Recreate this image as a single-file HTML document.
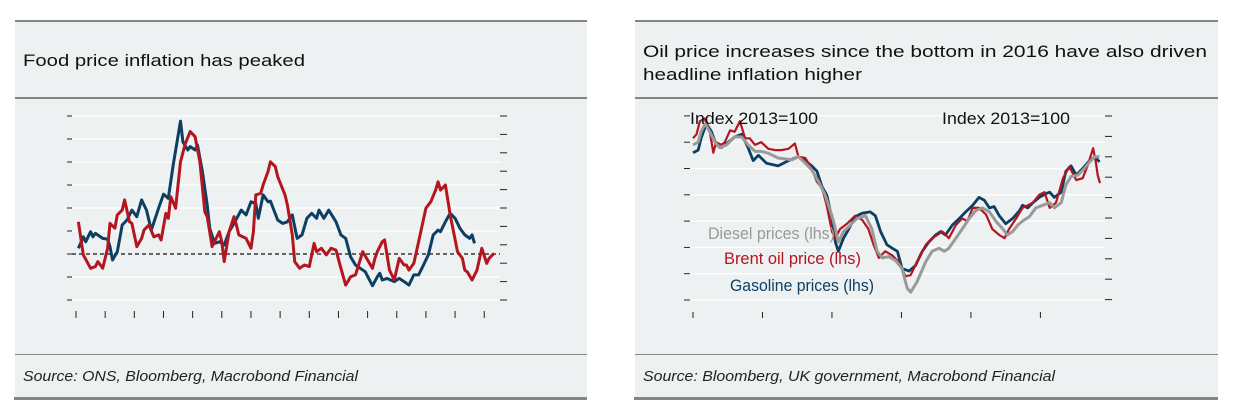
<!DOCTYPE html>
<html><head><meta charset="utf-8"><style>
html,body{margin:0;padding:0;background:#fff;}
svg{display:block;font-family:"Liberation Sans",sans-serif;}
</style></head><body>
<svg id="s" width="1233" height="418" viewBox="0 0 1233 418">
<g id="panels"></g>
<g id="left-chart"></g>
<g id="right-chart"></g>
</svg>
<script>
// ---- Left chart data (months since Jan 2004, % y/y)
const foodBlueMonths=[1,3,4,6,7,8,11,13,14,15,17,19,21,23,25,27,29,31,34,36,38,40,43,44,46,47,49,50,52,54,55,57,59,61,63,65,68,70,72,74,75,77,79,80,83,85,87,89,91,93,95,97,99,100,102,104,107,109,111,113,115,117,119,122,124,125,126,128,131,133,135,137,139,141,143,145,147,149,150,152,154,156,158,160,162,163,164];
const foodBlueValues=[0.25,0.75,0.53,0.97,0.75,0.9,0.68,0.65,0.32,-0.26,0.1,1.26,1.48,1.91,1.62,2.35,1.91,1.04,1.99,2.6,2.42,3.87,5.78,4.88,4.52,4.67,4.52,4.74,3.58,2.13,1.12,0.46,0.53,0.39,0.97,1.33,1.91,1.7,2.27,2.2,1.55,2.57,2.27,2.3,1.48,1.33,1.4,1.7,0.68,0.83,1.55,1.77,1.55,1.91,1.55,1.91,1.4,0.83,0.68,-0.12,-0.48,-0.62,-0.77,-1.38,-0.99,-0.84,-1.13,-1.06,-1.2,-1.06,-1.2,-1.35,-0.91,-0.91,-0.48,-0.03,0.83,1.04,0.97,1.4,1.77,1.55,1.12,0.83,0.68,0.83,0.46];
const foodRedMonths=[1,3,6,8,9,11,13,14,16,17,19,20,22,23,25,27,28,30,32,34,35,37,38,39,41,43,45,47,49,51,53,54,55,56,59,60,61,63,65,66,67,70,72,73,74,76,77,79,80,82,83,86,87,89,90,92,94,96,98,99,101,103,105,107,109,111,113,115,118,120,122,123,124,126,127,129,131,133,135,136,137,139,141,144,146,148,149,150,152,154,157,159,160,161,163,165,167,169,170,172];
const foodRedValues=[1.4,-0.04,-0.62,-0.55,-0.33,-0.62,0.25,1.33,1.12,1.7,1.91,2.35,1.4,1.33,0.32,0.68,1.04,1.26,0.75,0.83,0.61,1.77,1.55,2.49,1.99,4.01,4.81,5.32,5.1,4.01,1.84,1.62,0.97,0.32,0.97,0.53,-0.33,0.97,1.62,1.26,0.83,0.68,0.25,0.97,2.57,2.64,3.0,3.58,4.01,3.8,3.36,2.57,2.13,0.83,-0.33,-0.62,-0.48,-0.55,0.46,0.1,0.25,-0.04,0.25,0.17,-0.62,-1.35,-0.99,-0.91,0.1,-0.26,-0.62,-0.19,0.1,0.53,0.61,-0.7,-1.13,-0.19,-0.48,-0.48,-0.7,-0.41,0.53,1.99,2.27,2.78,3.14,2.78,3.0,1.7,0.1,-0.19,-0.7,-0.77,-1.13,-0.7,0.25,-0.41,-0.19,0.03];
const foodGridValues=[-2,-1,1,2,3,4,5,6];
const foodXTickMonths=[0,12,24,36,48,60,72,84,96,108,120,132,144,156,168];

// ---- Right chart data (months since start, index 2013=100)
const gasMonths=[0,0.9,1.4,2.3,3.2,4,4.9,6.1,7.2,8.4,9.5,10.4,11.3,12.7,14.7,16.5,18.2,19.4,20.5,21.4,22.3,23.1,24,24.6,25.1,26,26.9,28,29.2,30.6,31.5,32.4,33.5,34.4,35.3,36.1,37.3,38.4,39.6,40.7,41.9,42.8,43.6,44.8,46,47.1,48.3,49.4,50.3,51.2,52,52.9,54,55.2,56.4,56.9,57.8,58.7,59.8,61,61.6,62.4,63.6,64.4,65.3,66.2,67.3,68.5,69.4,70.2];
const gasValues=[96,97,101.5,107,104,99,98,100,102,103,98,93,95,92,91,93,94.5,93,91,89,83,80,71,62,58.5,63.5,67,71.7,73,73.5,72,66,61,59.7,58.5,52,51,53,58.5,62,64.7,66,64.7,68.5,71,73.5,76,79,78,75,75.5,72,69,71,74,76,75,77,79,80.5,81,79,81,89,91,87.5,90,93,94.5,92.5];
const brentMonths=[0,0.6,1.2,2,2.9,3.5,4,4.9,5.5,6.4,7.2,8.1,9,9.8,10.7,11.8,13,14.2,15.3,16.5,17.6,18.2,19.4,20.5,21.4,22.3,23.1,24,24.6,25.4,26.6,28,29.2,30.3,31.2,32.1,33.2,34.4,35.5,36.7,37.6,38.7,40.2,41.3,42.2,43.1,44.2,45.4,46.5,47.4,48.3,49.4,50.6,51.7,52.9,53.8,54.6,55.8,56.9,57.8,58.7,59.8,60.7,61.6,62.7,63.9,65,66.2,67.3,68.2,69.1,69.6,69.9,70.3];
const brentValues=[101.5,103,108,109,104,96,100,99,100,104.5,104,108,101.5,101.5,99,100,97.5,97,97,97.5,99.5,94.5,94,90,85,82.5,76,66,63.5,67,69,72,70.5,67,61,56,58.5,57,54.6,49,49.5,54.6,61,63.5,64.7,66,63.5,68.5,71,70,75,75,72.5,67,64.7,63.5,67,71,75,76,77,80,81,75,77,86.3,90.7,85.6,86.3,91.4,97.7,92,87.5,84.4];
const dieselMonths=[0,0.9,1.4,2.1,2.9,3.8,4.6,5.8,7.2,8.4,9.5,10.7,11.8,13,14.7,17.1,18.2,19.4,20.5,21.7,22.8,24,24.6,25.1,26,27.2,28.3,29.8,30.9,31.8,32.7,33.8,35,36.1,37,37.6,38.7,40.2,41.3,42.5,43.4,44.2,45.4,46.5,47.7,48.8,50,51.2,52.3,53.5,54.3,55.2,56.1,56.9,58.1,59.2,60.4,61.6,62.4,63.6,64.4,65.3,66.5,67.6,68.5,69.4,70.2];
const dieselValues=[99,100,104,107,104,100,98,99,102,102,99,96.5,96.5,95.8,94,93.3,94.5,92,89.5,85,80,72,67,62,66,68.5,71,72,67,58.5,56,56.5,55,52,44.5,43,47,54.6,58.5,59.7,58.5,59.7,63.5,67,71,74,75,73.5,70,67,64.7,66,68.5,70,71.7,75,76,77,75,77,83.8,87,87.5,90,92.5,94.5,94.5];
const oilGridValues=[40,50,60,70,80,90,100];
const oilXTickMonths=[0,12,24,36,48,60];

const NS='http://www.w3.org/2000/svg';
function mk(parent,tag,attrs,text){const e=document.createElementNS(NS,tag);for(const k in attrs)e.setAttribute(k,attrs[k]);if(text!==undefined)e.textContent=text;parent.appendChild(e);return e;}

// Panels
const P=document.getElementById('panels');
function panel(x0,x1,titleLines,titleLens,source,srcLen,name){
  const g=mk(P,'g',{});
  
  
  mk(g,'rect',{x:x0,y:20,width:x1-x0,height:379,fill:'#eef1f2'});
  mk(g,'rect',{x:x0,y:20,width:x1-x0,height:2,fill:'#858585'});
  mk(g,'rect',{x:x0,y:97,width:x1-x0,height:2,fill:'#858585'});
  mk(g,'rect',{x:x0,y:354,width:x1-x0,height:1,fill:'#858585'});
  mk(g,'rect',{x:x0-1,y:397,width:x1-x0+1,height:3,fill:'#858585'});
  titleLines.forEach((t,i)=>{
    const te=mk(g,'text',{x:x0+8,y:titleLines.length===1?66:(57+i*23),'font-size':17,fill:'#111',textLength:titleLens[i],lengthAdjust:'spacingAndGlyphs'},t);
    
    
  });
  const s=mk(g,'text',{x:x0+8,y:381,'font-size':15,'font-style':'italic',fill:'#222',textLength:srcLen,lengthAdjust:'spacingAndGlyphs'},source);
  
  
}
panel(15,587,['Food price inflation has peaked'],[282],'Source: ONS, Bloomberg, Macrobond Financial',335,'left-panel');
panel(635,1218,['Oil price increases since the bottom in 2016  have also driven','headline inflation higher'],[564,219],'Source: Bloomberg, UK government, Macrobond Financial',412,'right-panel');

// Left chart
(function(){
  const G=document.getElementById('left-chart');
  const xL=m=>76+m*2.43, yL=v=>254-v*23;
  foodGridValues.forEach(v=>{
    const l=mk(G,'line',{x1:67,x2:500,y1:yL(v),y2:yL(v),stroke:'#fff','stroke-width':1.3});
    
    
    mk(G,'line',{x1:67,x2:72,y1:yL(v),y2:yL(v),stroke:'#222','stroke-width':1});
  });
  mk(G,'line',{x1:67,x2:72,y1:254,y2:254,stroke:'#222','stroke-width':1});
  const z=mk(G,'line',{x1:72,x2:500,y1:yL(0),y2:yL(0),stroke:'#111','stroke-width':1.2,'stroke-dasharray':'4,3'});
  
  
  for(let i=0;i<11;i++){const y=116+i*18.4;mk(G,'line',{x1:500,x2:507,y1:y,y2:y,stroke:'#222','stroke-width':1});}
  foodXTickMonths.forEach(m=>{
    const t=mk(G,'line',{x1:xL(m),x2:xL(m),y1:311,y2:318,stroke:'#222','stroke-width':1});
    
    
  });
  function series(ms,vs,color,name){
    const p=mk(G,'polyline',{points:ms.map((m,i)=>xL(m).toFixed(1)+','+yL(vs[i]).toFixed(1)).join(' '),fill:'none',stroke:color,'stroke-width':3,'stroke-linejoin':'round'});
    
    
  }
  series(foodBlueMonths,foodBlueValues,'#0d3f63','food-inflation-line-blue');
  series(foodRedMonths,foodRedValues,'#b4151e','food-inflation-line-red');
})();

// Right chart
(function(){
  const G=document.getElementById('right-chart');
  const xR=m=>693+m*5.79, yR=v=>300-(v-40)*2.63;
  oilGridValues.concat([110]).forEach(v=>{
    const l=mk(G,'line',{x1:684,x2:1105,y1:yR(v),y2:yR(v),stroke:'#fff','stroke-width':1.3});
    
    
    mk(G,'line',{x1:684,x2:690,y1:yR(v),y2:yR(v),stroke:'#222','stroke-width':1});
  });
  for(let i=0;i<10;i++){const y=116+i*20.4;mk(G,'line',{x1:1105,x2:1112,y1:y,y2:y,stroke:'#222','stroke-width':1});}
  oilXTickMonths.forEach(m=>{
    const t=mk(G,'line',{x1:xR(m),x2:xR(m),y1:312,y2:318,stroke:'#222','stroke-width':1});
    
    
  });
  function series(ms,vs,color,w,name){
    const p=mk(G,'polyline',{points:ms.map((m,i)=>xR(m).toFixed(1)+','+yR(vs[i]).toFixed(1)).join(' '),fill:'none',stroke:color,'stroke-width':w,'stroke-linejoin':'round'});
    
    
  }
  series(gasMonths,gasValues,'#0d3f63',2.8,'gasoline-line');
  series(brentMonths,brentValues,'#b4151e',2.2,'brent-line');
  series(dieselMonths,dieselValues,'#9a9a9a',3,'diesel-line');
  const labels=[['Index 2013=100',690,124,'#111','left-axis-title',128],['Index 2013=100',942,124,'#111','right-axis-title',128],
    ['Diesel prices (lhs)',708,239,'#999','legend-diesel',127],['Brent oil price (lhs)',724,264,'#b4151e','legend-brent',137],['Gasoline prices (lhs)',730,291,'#0d3f63','legend-gasoline',144]];
  labels.forEach(a=>{
    const t=mk(G,'text',{x:a[1],y:a[2],'font-size':17,fill:a[3],textLength:a[5],lengthAdjust:'spacingAndGlyphs'},a[0]);
    
    
  });
})();
</script>
</body></html>
